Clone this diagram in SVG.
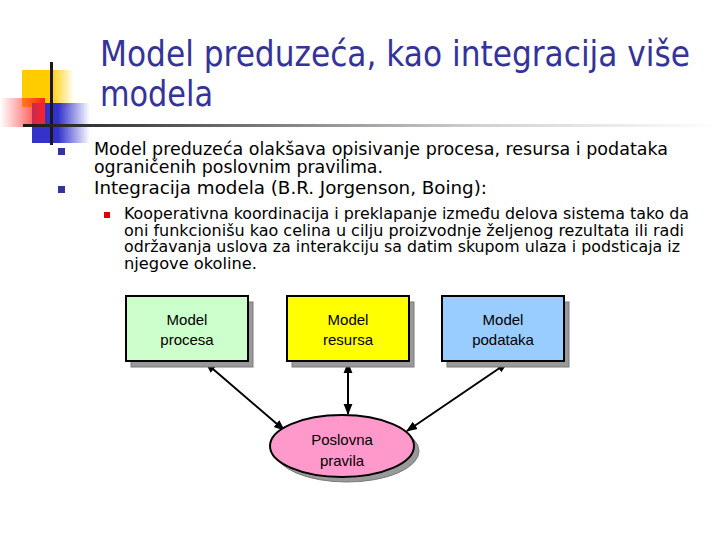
<svg xmlns="http://www.w3.org/2000/svg" width="720" height="540" viewBox="0 0 720 540">
<defs>
<linearGradient id="gY" x1="0" y1="0" x2="1" y2="0"><stop offset="0" stop-color="#ffcc00"/><stop offset="0.55" stop-color="#ffcc00"/><stop offset="1" stop-color="#ffcc00" stop-opacity="0"/></linearGradient>
<linearGradient id="gR" x1="0" y1="0" x2="1" y2="0"><stop offset="0" stop-color="#ff3333" stop-opacity="0"/><stop offset="1" stop-color="#ff2222"/></linearGradient>
<linearGradient id="gB" x1="0" y1="0" x2="1" y2="0"><stop offset="0" stop-color="#3333cc"/><stop offset="0.45" stop-color="#3333cc"/><stop offset="1" stop-color="#3333cc" stop-opacity="0"/></linearGradient>
<linearGradient id="gL" x1="23" y1="0" x2="720" y2="0" gradientUnits="userSpaceOnUse"><stop offset="0" stop-color="#1a1a1a"/><stop offset="0.65" stop-color="#d0d0d0"/><stop offset="1" stop-color="#ffffff"/></linearGradient>
<marker id="ah" viewBox="0 0 10 10" refX="9" refY="5" markerWidth="5.5" markerHeight="5.5" orient="auto-start-reverse" markerUnits="strokeWidth"><path d="M0,1 L10,5 L0,9 z" fill="#000"/></marker>
</defs>
<style>
.title{font-family:"DejaVu Sans Condensed","DejaVu Sans",sans-serif;font-size:35px;fill:#333399}
.b1{font-family:"DejaVu Sans Condensed","DejaVu Sans",sans-serif;font-size:18.5px;fill:#000}
.b2{font-family:"DejaVu Sans Condensed","DejaVu Sans",sans-serif;font-size:15.5px;fill:#000}
.lbl{font-family:"Liberation Sans",Arial,sans-serif;font-size:15px;fill:#000;text-anchor:middle}
.box{stroke:#000;stroke-width:2}
.sh{fill:#999999;stroke:#7a7a7a;stroke-width:1}
.con{stroke:#000;stroke-width:2;fill:none;marker-start:url(#ah);marker-end:url(#ah)}
</style>
<rect width="720" height="540" fill="#fff"/>
<g id="logo">
<rect x="22" y="70" width="52" height="37" fill="url(#gY)"/>
<rect x="32" y="103" width="58" height="40" fill="url(#gB)"/>
<rect x="0" y="98" width="45" height="29" fill="url(#gR)"/>
<rect x="50" y="62" width="3" height="83" fill="#1a1a1a"/>
<rect x="23" y="124" width="697" height="3" fill="url(#gL)"/>
</g>
<g id="title">
<text class="title" x="100" y="66" textLength="590" lengthAdjust="spacingAndGlyphs">Model preduzeća, kao integracija više</text>
<text class="title" x="100" y="106" textLength="113" lengthAdjust="spacingAndGlyphs">modela</text>
</g>
<g id="bullets">
<rect x="58" y="148" width="7" height="7" fill="#333399"/>
<rect x="58" y="186" width="7" height="7" fill="#333399"/>
<text class="b1" x="94" y="155" textLength="574" lengthAdjust="spacingAndGlyphs">Model preduzeća olakšava opisivanje procesa, resursa i podataka</text>
<text class="b1" x="94" y="173" textLength="289" lengthAdjust="spacingAndGlyphs">ograničenih poslovnim pravilima.</text>
<text class="b1" x="94" y="194" textLength="393" lengthAdjust="spacingAndGlyphs">Integracija modela (B.R. Jorgenson, Boing):</text>
<rect x="104" y="212" width="6" height="6" fill="#dd0000"/>
<text class="b2" x="124" y="219" textLength="565" lengthAdjust="spacingAndGlyphs">Kooperativna koordinacija i preklapanje između delova sistema tako da</text>
<text class="b2" x="124" y="236" textLength="560" lengthAdjust="spacingAndGlyphs">oni funkcionišu kao celina u cilju proizvodnje željenog rezultata ili radi</text>
<text class="b2" x="124" y="252" textLength="556" lengthAdjust="spacingAndGlyphs">održavanja uslova za interakciju sa datim skupom ulaza i podsticaja iz</text>
<text class="b2" x="124" y="269" textLength="133" lengthAdjust="spacingAndGlyphs">njegove okoline.</text>
</g>
<g id="connectors">
<line class="con" x1="206" y1="363" x2="284" y2="430"/>
<line class="con" x1="348" y1="363" x2="348" y2="414"/>
<line class="con" x1="507" y1="363" x2="407" y2="431"/>
</g>
<g id="node-procesa">
<rect class="sh" x="131" y="302" width="122" height="65"/>
<rect class="box" x="126" y="296" width="122" height="65" fill="#ccffcc"/>
<text class="lbl" x="187" y="325">Model</text>
<text class="lbl" x="187" y="345">procesa</text>
</g>
<g id="node-resursa">
<rect class="sh" x="292" y="302" width="122" height="65"/>
<rect class="box" x="287" y="296" width="122" height="65" fill="#ffff00"/>
<text class="lbl" x="348" y="325">Model</text>
<text class="lbl" x="348" y="345">resursa</text>
</g>
<g id="node-podataka">
<rect class="sh" x="447" y="302" width="122" height="65"/>
<rect class="box" x="442" y="296" width="122" height="65" fill="#99ccff"/>
<text class="lbl" x="503" y="325">Model</text>
<text class="lbl" x="503" y="345">podataka</text>
</g>
<g id="node-pravila">
<ellipse class="sh" cx="347" cy="451" rx="72" ry="31"/>
<ellipse class="box" cx="342" cy="446" rx="72" ry="31" fill="#ff99cc"/>
<text class="lbl" x="342" y="445">Poslovna</text>
<text class="lbl" x="342" y="466">pravila</text>
</g>
</svg>
